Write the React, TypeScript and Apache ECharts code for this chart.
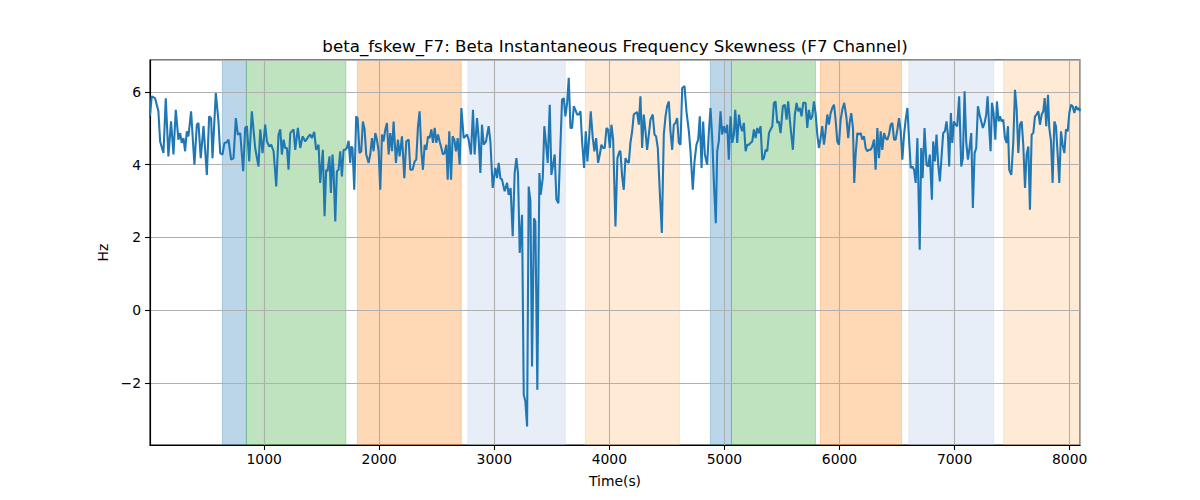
import { useEffect, useRef } from "react";
import * as echarts from "echarts";

const TITLE = "beta_fskew_F7: Beta Instantaneous Frequency Skewness (F7 Channel)";
const X_MIN = 8;
const X_MAX = 8090;
const Y_MIN = -3.71;
const Y_MAX = 6.88;

// [time (s), skewness (Hz)]
const samples: [number, number][] = [
  [8, 5.35], [23, 5.88], [52, 5.83], [81, 5.47], [96, 4.64], [125, 4.32], [145, 5.83], [168, 4.23],
  [191, 5.19], [212, 4.28], [232, 5.51], [255, 4.69], [270, 4.87], [284, 4.6], [299, 4.73], [313, 4.37],
  [328, 4.92], [342, 4.78], [365, 5.47], [394, 4.0], [415, 5.1], [429, 5.15], [449, 4.18], [473, 5.06],
  [502, 3.72], [522, 5.33], [539, 5.28], [551, 4.18], [580, 5.97], [603, 5.19], [618, 4.32], [638, 4.28],
  [655, 4.6], [676, 4.62], [690, 4.69], [713, 4.14], [734, 4.18], [754, 5.28], [771, 4.83], [792, 4.87],
  [818, 3.82], [835, 5.01], [850, 5.06], [870, 4.09], [893, 5.47], [922, 4.46], [951, 3.95], [966, 4.97],
  [986, 4.32], [1009, 5.1], [1024, 4.64], [1044, 4.5], [1061, 4.55], [1082, 4.37], [1105, 3.4], [1125, 4.83],
  [1140, 4.97], [1154, 4.28], [1169, 4.69], [1183, 4.46], [1198, 4.46], [1212, 3.86], [1227, 4.87], [1241, 4.92],
  [1256, 4.97], [1270, 4.41], [1293, 5.01], [1314, 4.46], [1334, 4.78], [1357, 4.64], [1386, 4.78],
  [1400, 4.83], [1415, 4.73], [1435, 4.9], [1452, 4.41], [1473, 4.55], [1487, 3.5], [1510, 4.41], [1525, 2.58],
  [1539, 3.86], [1551, 3.82], [1568, 4.23], [1580, 3.22], [1594, 4.28], [1603, 3.86], [1618, 2.44], [1632, 3.82],
  [1647, 3.86], [1661, 4.37], [1676, 3.68], [1690, 4.41], [1705, 4.41], [1719, 4.46], [1734, 4.66], [1748, 4.05],
  [1757, 4.5], [1768, 4.46], [1783, 3.31], [1800, 5.33], [1812, 5.28], [1829, 4.32], [1844, 4.37], [1858, 5.19],
  [1873, 4.97], [1887, 4.28], [1908, 4.05], [1922, 4.28], [1937, 4.73], [1951, 4.37], [1966, 4.87], [1980, 4.69],
  [1995, 4.37], [2009, 3.31], [2024, 4.83], [2038, 4.64], [2053, 4.97], [2067, 5.15], [2082, 4.28], [2096, 4.87],
  [2111, 4.37], [2125, 5.19], [2145, 4.05], [2163, 4.69], [2177, 4.23], [2198, 4.78], [2218, 3.63], [2235, 4.64],
  [2256, 4.69], [2270, 3.86], [2290, 3.86], [2308, 4.09], [2322, 4.14], [2337, 5.06], [2351, 5.47], [2366, 4.37],
  [2380, 3.86], [2395, 4.55], [2409, 4.41], [2424, 4.78], [2438, 4.73], [2453, 4.97], [2467, 4.6], [2482, 5.01],
  [2496, 4.6], [2511, 4.83], [2525, 4.64], [2540, 4.46], [2554, 4.28], [2569, 4.32], [2583, 4.55], [2595, 3.59],
  [2609, 4.92], [2624, 3.59], [2638, 4.78], [2653, 4.69], [2667, 4.37], [2682, 4.73], [2699, 4.0], [2714, 5.56],
  [2734, 4.73], [2763, 4.83], [2777, 4.69], [2797, 4.28], [2815, 5.51], [2829, 4.28], [2850, 5.28], [2864, 4.73],
  [2879, 3.77], [2893, 5.1], [2908, 4.55], [2928, 4.64], [2951, 5.06], [2966, 4.64], [2986, 3.36], [3009, 3.91],
  [3024, 3.63], [3038, 4.05], [3053, 3.63], [3067, 3.59], [3090, 3.27], [3111, 3.5], [3125, 3.17], [3142, 3.36],
  [3160, 2.03], [3177, 3.77], [3192, 4.18], [3206, 3.77], [3221, 1.57], [3241, 2.62], [3256, -2.33], [3270, -2.51],
  [3285, -3.2], [3299, 3.4], [3314, 2.99], [3328, -1.55], [3345, 2.53], [3357, 2.44], [3374, -2.19], [3392, 3.77],
  [3403, 3.17], [3421, 3.63], [3435, 5.06], [3450, 4.55], [3464, 4.05], [3482, 5.65], [3496, 3.72], [3511, 4.0],
  [3525, 4.28], [3540, 3.04], [3557, 2.94], [3575, 4.55], [3589, 5.79], [3604, 5.83], [3618, 5.33], [3633, 5.7],
  [3647, 6.39], [3662, 5.01], [3676, 5.01], [3691, 5.61], [3705, 5.51], [3720, 5.38], [3734, 5.38], [3749, 5.47],
  [3763, 4.64], [3780, 3.91], [3795, 4.92], [3809, 4.09], [3824, 4.73], [3838, 5.47], [3856, 4.73], [3870, 4.37],
  [3885, 4.73], [3902, 4.05], [3917, 4.28], [3931, 4.55], [3946, 4.46], [3960, 4.46], [3975, 5.01], [3989, 4.97],
  [4004, 4.46], [4018, 5.1], [4033, 4.69], [4053, 2.3], [4070, 4.18], [4088, 4.37], [4096, 4.37], [4111, 3.68],
  [4125, 3.31], [4140, 4.18], [4154, 4.09], [4169, 4.05], [4183, 4.6], [4198, 4.92], [4212, 5.38], [4227, 5.42],
  [4241, 5.45], [4256, 5.1], [4270, 5.88], [4285, 4.46], [4299, 5.38], [4314, 4.92], [4328, 4.41], [4343, 4.83],
  [4357, 5.24], [4377, 5.38], [4392, 4.83], [4406, 4.78], [4421, 4.46], [4438, 3.27], [4456, 2.12], [4473, 4.83],
  [4488, 5.33], [4502, 5.61], [4517, 5.74], [4531, 4.92], [4546, 4.41], [4560, 5.1], [4575, 5.15], [4589, 5.28],
  [4604, 4.6], [4618, 4.55], [4633, 6.11], [4653, 6.16], [4670, 5.47], [4691, 4.92], [4705, 4.37], [4725, 3.31],
  [4740, 4.09], [4757, 4.55], [4772, 4.69], [4786, 5.33], [4801, 3.91], [4815, 5.19], [4830, 4.28], [4850, 4.0],
  [4865, 4.92], [4879, 5.56], [4894, 4.73], [4908, 3.54], [4925, 2.39], [4937, 4.37], [4951, 4.64], [4966, 5.47],
  [4980, 4.83], [4995, 5.06], [5009, 4.87], [5024, 5.1], [5038, 4.14], [5053, 5.33], [5068, 4.6], [5082, 4.83],
  [5094, 5.51], [5111, 4.6], [5126, 5.38], [5140, 5.06], [5155, 4.92], [5169, 5.15], [5184, 4.37], [5198, 4.55],
  [5213, 4.55], [5227, 4.6], [5242, 4.64], [5256, 4.97], [5271, 4.73], [5285, 5.01], [5300, 4.87], [5314, 5.06],
  [5329, 4.14], [5343, 4.18], [5358, 4.41], [5372, 4.37], [5387, 4.87], [5401, 4.97], [5416, 5.06], [5430, 5.7],
  [5444, 5.74], [5459, 5.15], [5473, 5.19], [5488, 4.87], [5508, 5.61], [5525, 5.65], [5540, 5.24], [5554, 5.74],
  [5575, 5.01], [5595, 4.41], [5612, 5.38], [5627, 5.7], [5641, 5.47], [5656, 5.56], [5670, 5.33], [5685, 5.7],
  [5705, 5.7], [5720, 5.01], [5734, 5.51], [5749, 5.24], [5763, 5.33], [5778, 5.74], [5792, 5.42], [5807, 4.83],
  [5821, 4.46], [5836, 4.73], [5850, 5.06], [5865, 4.55], [5879, 4.92], [5894, 5.38], [5908, 5.1], [5923, 5.42],
  [5937, 5.56], [5952, 5.65], [5966, 5.24], [5981, 4.64], [5995, 4.55], [6010, 5.24], [6024, 5.51], [6041, 5.7],
  [6059, 5.33], [6076, 4.73], [6088, 5.15], [6102, 5.42], [6117, 5.01], [6128, 3.5], [6140, 4.28], [6155, 4.87],
  [6169, 4.83], [6184, 4.87], [6198, 4.69], [6213, 4.78], [6227, 4.46], [6242, 4.37], [6256, 4.41], [6271, 4.41],
  [6285, 4.5], [6300, 4.69], [6314, 3.86], [6329, 5.01], [6343, 4.18], [6358, 4.92], [6372, 4.41], [6387, 4.87],
  [6401, 4.73], [6416, 4.69], [6430, 4.83], [6445, 5.1], [6459, 5.15], [6474, 4.69], [6488, 4.69], [6503, 4.97],
  [6517, 5.28], [6532, 4.92], [6546, 4.14], [6561, 4.83], [6575, 5.24], [6590, 5.56], [6604, 4.73], [6619, 3.91],
  [6633, 3.95], [6648, 3.86], [6662, 3.5], [6677, 4.73], [6685, 3.5], [6697, 1.66], [6710, 4.46], [6722, 3.63],
  [6739, 5.01], [6756, 4.0], [6771, 3.95], [6785, 4.28], [6803, 3.04], [6814, 4.64], [6829, 4.09], [6843, 4.83],
  [6858, 4.0], [6872, 3.54], [6887, 4.23], [6901, 4.87], [6916, 4.92], [6930, 5.19], [6942, 4.83], [6953, 3.95],
  [6968, 5.42], [6980, 4.6], [6994, 5.19], [7009, 5.1], [7023, 5.06], [7040, 5.88], [7058, 3.95], [7072, 4.18],
  [7087, 6.02], [7101, 4.64], [7116, 4.14], [7130, 4.46], [7145, 4.87], [7159, 2.81], [7174, 4.32], [7188, 4.46],
  [7203, 5.61], [7217, 5.38], [7232, 5.19], [7246, 5.01], [7261, 5.15], [7275, 5.38], [7287, 5.88], [7301, 5.01],
  [7313, 4.37], [7325, 5.7], [7339, 5.42], [7354, 4.69], [7368, 5.74], [7383, 5.19], [7394, 5.33], [7409, 5.19],
  [7423, 5.24], [7438, 4.73], [7452, 4.6], [7464, 5.06], [7475, 3.86], [7493, 3.72], [7510, 4.6], [7525, 6.06],
  [7539, 5.56], [7554, 4.32], [7568, 5.1], [7583, 5.19], [7597, 4.55], [7612, 3.36], [7626, 4.28], [7641, 4.5],
  [7655, 2.76], [7670, 4.83], [7684, 4.87], [7699, 5.33], [7713, 5.38], [7728, 5.47], [7742, 5.1], [7757, 5.38],
  [7771, 5.47], [7783, 5.83], [7797, 5.06], [7812, 5.92], [7823, 5.01], [7838, 4.64], [7852, 3.5], [7867, 5.19],
  [7881, 5.06], [7896, 4.28], [7910, 3.5], [7925, 4.92], [7939, 4.55], [7954, 4.32], [7968, 4.97], [7983, 4.92],
  [7997, 5.42], [8012, 5.65], [8026, 5.61], [8041, 5.42], [8055, 5.61], [8070, 5.51], [8084, 5.56], [8090, 5.47],
];

// shaded intervals: [start, end, kind]
const spans: [number, number, string][] = [
  [637, 846, "blue"],
  [846, 1710, "green"],
  [1811, 2713, "orange"],
  [2771, 3617, "lightblue"],
  [3791, 4609, "lightorange"],
  [4878, 5061, "blue"],
  [5061, 5791, "green"],
  [5835, 6539, "orange"],
  [6603, 7339, "lightblue"],
  [7426, 8090, "lightorange"],
];

const spanColors: Record<string, string> = {
  blue: "rgba(31,119,180,0.3)",
  green: "rgba(44,160,44,0.3)",
  orange: "rgba(255,127,14,0.3)",
  lightblue: "rgba(174,199,232,0.3)",
  lightorange: "rgba(255,187,120,0.3)",
};

const FONT = "DejaVu Sans";
const minus = (v: number) => String(v).replace("-", "\u2212");

const axisCommon = {
  nameLocation: "middle",
  nameTextStyle: { color: "#000", fontSize: 13.9, fontFamily: FONT },
  axisLine: { show: true, onZero: false, lineStyle: { color: "#000", width: 1.1 } },
  axisTick: { show: true, length: 5, lineStyle: { color: "#000", width: 1.1 } },
  splitLine: { show: true, lineStyle: { color: "#b0b0b0", width: 1.1 } },
  z: 2,
};

export default function App() {
  const ref = useRef<HTMLDivElement>(null);

  useEffect(() => {
    document.body.style.margin = "0";
    if (!ref.current) return;
    const ch = echarts.init(ref.current, undefined, { renderer: "svg" });

    ch.setOption({
      animation: false,
      backgroundColor: "#fff",
      textStyle: { fontFamily: FONT },
      graphic: [{
        type: "text", x: 615, y: 46,
        style: {
          text: TITLE, fill: "#000", font: `16.67px "${FONT}"`,
          textAlign: "center", textVerticalAlign: "middle",
        },
      }],
      grid: {
        left: 150, right: 120, top: 60, bottom: 55,
        show: true, borderColor: "#000", borderWidth: 1.1, backgroundColor: "transparent",
        containLabel: false, outerBoundsMode: "none",
      },
      xAxis: {
        ...axisCommon,
        type: "value", min: X_MIN, max: X_MAX, splitNumber: 8,
        name: "Time(s)", nameGap: 29,
        axisLabel: {
          color: "#000", fontSize: 13.9, fontFamily: FONT, margin: 7,
          showMinLabel: false, showMaxLabel: false, formatter: minus,
        },
      },
      yAxis: {
        ...axisCommon,
        type: "value", min: Y_MIN, max: Y_MAX, splitNumber: 5,
        name: "Hz", nameGap: 27,
        axisLabel: {
          color: "#000", fontSize: 13.9, fontFamily: FONT, margin: 9,
          showMinLabel: false, showMaxLabel: false, formatter: minus,
        },
      },
      series: [
        {
          // carrier for the shaded intervals, kept under the grid lines
          type: "line",
          data: [],
          silent: true,
          z: 1,
          markArea: {
            silent: true,
            data: spans.map(([a, b, kind]) => [
              { xAxis: a, itemStyle: { color: spanColors[kind], borderColor: spanColors[kind], borderWidth: 1 } },
              { xAxis: b },
            ]),
          },
        },
        {
          type: "line",
          data: samples,
          showSymbol: false,
          symbol: "none",
          lineStyle: { color: "#1f77b4", width: 2.08 },
          itemStyle: { color: "#1f77b4" },
          z: 3,
        },
      ],
    });

    return () => ch.dispose();
  }, []);

  return <div ref={ref} style={{ width: 1200, height: 500 }} />;
}
